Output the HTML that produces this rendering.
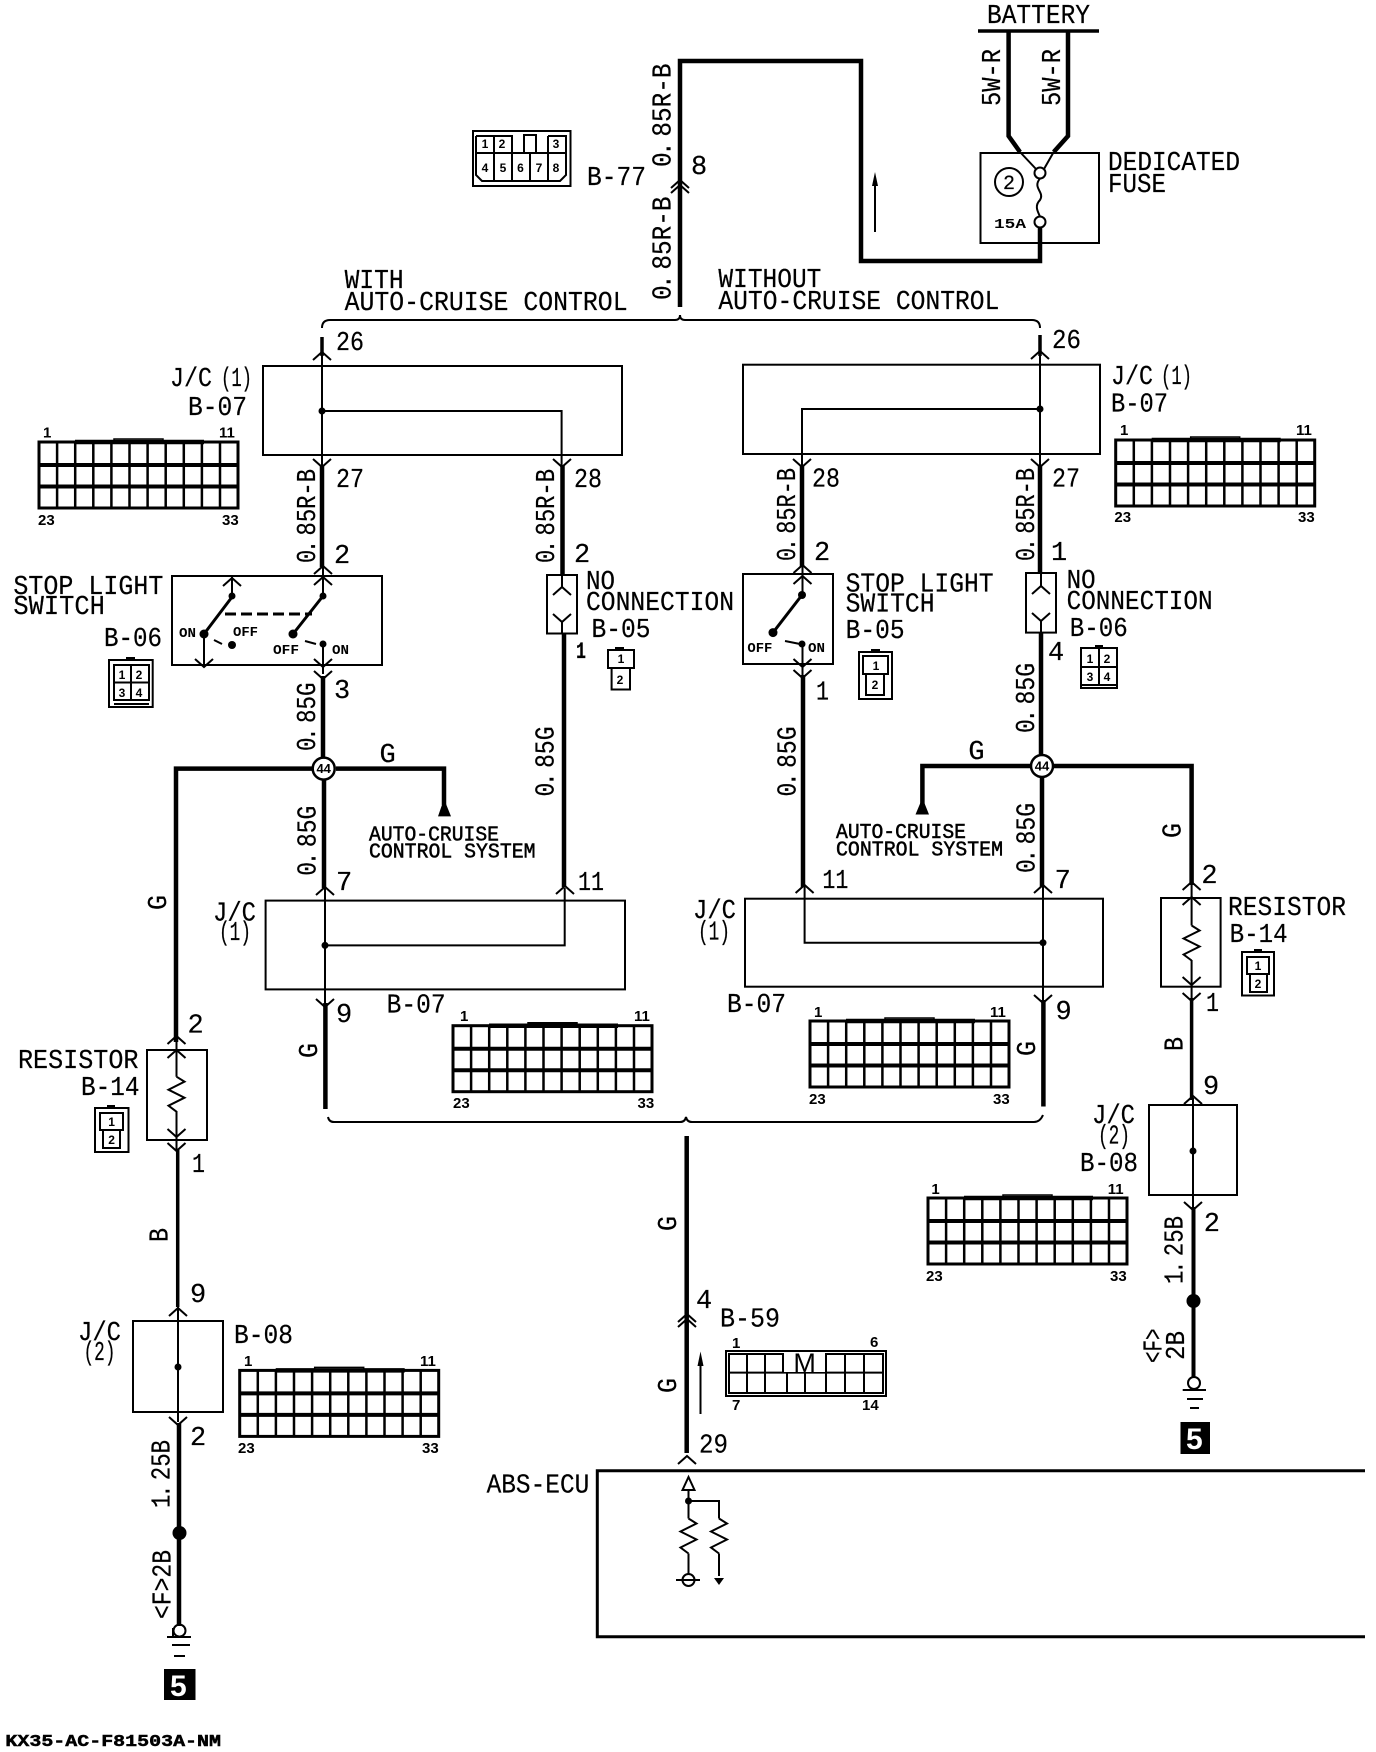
<!DOCTYPE html>
<html>
<head>
<meta charset="utf-8">
<style>
html,body{margin:0;padding:0;background:#fff}
svg{display:block}
text{fill:#000;font-family:"Liberation Mono",monospace;font-size:27px;stroke:#000;stroke-width:.2px}
.b{font-family:"Liberation Sans",sans-serif;font-weight:bold;font-size:15px;stroke:none}
.s{font-family:"Liberation Mono",monospace;font-weight:bold;font-size:14px;stroke:none}
.c{font-size:21px;stroke-width:.5px}
.p{font-family:"Liberation Sans",sans-serif;font-weight:bold;font-size:12px;text-anchor:middle;stroke:none}
.f{fill:none;stroke:#000}
.w{fill:none;stroke:#000;stroke-width:4.5}
.t{fill:none;stroke:#000;stroke-width:2}
</style>
</head>
<body>
<svg xmlns="http://www.w3.org/2000/svg" width="1376" height="1752" viewBox="0 0 1376 1752">
<defs>
<path id="u" class="t" d="M-9 5L0-3L9 5"/>
<path id="d" class="t" d="M-9-5L0 3L9-5"/>
<path id="z" class="t" d="M0 0L8 5L-8 13L8 21L-8 29L0 35"/>
<g id="g">
<rect class="f" stroke-width="3" x="0" y="0" width="199" height="66"/>
<path class="f" stroke-width="4" d="M0 23H199M0 44.500H199"/>
<path class="f" stroke-width="2.500" d="M18.100 0V66M36.200 0V66M54.300 0V66M72.400 0V66M90.500 0V66M108.600 0V66M126.700 0V66M144.800 0V66M162.900 0V66M181 0V66"/>
<path class="f" stroke-width="4.500" d="M36 0H165"/>
<path class="f" stroke-width="1.500" d="M75 0V-3H124V0"/>
</g>
</defs>

<!-- battery and fuse -->
<path class="f" stroke-width="3.500" d="M978 31H1099"/>
<text x="987" y="23" textLength="103" lengthAdjust="spacingAndGlyphs">BATTERY</text>
<path class="w" d="M1008.600 31V136L1020 152M1068 31V136L1053.700 152"/>
<path class="t" d="M1020 152L1036 169M1053.700 152L1044 169"/>
<rect class="t" x="980.500" y="153" width="118.500" height="90"/>
<circle class="t" cx="1040" cy="173" r="5.500" fill="#fff"/>
<circle class="t" cx="1040" cy="222" r="5.500" fill="#fff"/>
<path class="t" d="M1040 178.500C1032 188 1045 192 1040 200C1034 206 1038 212 1040 216.500"/>
<circle class="t" cx="1009" cy="182" r="14"/>
<text x="1003" y="189" style="font-size:20px">2</text>
<text class="s" x="994" y="228" textLength="32" lengthAdjust="spacingAndGlyphs">15A</text>
<text x="1108" y="170" textLength="132" lengthAdjust="spacingAndGlyphs">DEDICATED</text>
<text x="1108" y="192" textLength="58" lengthAdjust="spacingAndGlyphs">FUSE</text>
<text transform="translate(1000,106) rotate(-90)" textLength="57" lengthAdjust="spacingAndGlyphs">5W-R</text>
<text transform="translate(1060,106) rotate(-90)" textLength="57" lengthAdjust="spacingAndGlyphs">5W-R</text>
<path class="w" d="M680 307V61H861V261H1040V227"/>
<path class="t" stroke-width="1.500" d="M875 232V180"/>
<path d="M875 172L872 186H878Z"/>

<!-- B-77 -->
<rect class="t" x="473" y="131" width="97.500" height="55"/>
<path class="t" d="M476 153H566M476 136H512V153M494 136V180M512 153V180M530 153V180M548 136V180M548 136H566V175L560 181H482L476 175V136M524 153V135H536V153"/>
<text class="p" x="485" y="148">1</text><text class="p" x="502" y="148">2</text><text class="p" x="556" y="148">3</text><text class="p" x="485" y="172">4</text><text class="p" x="503" y="172">5</text><text class="p" x="520.500" y="172">6</text><text class="p" x="539" y="172">7</text><text class="p" x="556" y="172">8</text>
<text x="587" y="185" textLength="59" lengthAdjust="spacingAndGlyphs">B-77</text>
<text transform="translate(670.500,167) rotate(-90)" textLength="103.500" lengthAdjust="spacingAndGlyphs">0<tspan dx="-4">.</tspan><tspan dx="-11"> 85R-B</tspan></text>
<text transform="translate(670.500,300) rotate(-90)" textLength="103.500" lengthAdjust="spacingAndGlyphs">0<tspan dx="-4">.</tspan><tspan dx="-11"> 85R-B</tspan></text>
<text x="691" y="174">8</text>
<use href="#u" x="680" y="183"/><use href="#u" x="680" y="188"/>

<!-- top bracket -->
<path class="t" d="M322 328Q322 320 330 320H675Q680 320 680 315Q680 320 685 320H1032Q1040 320 1040 328"/>
<text x="344.600" y="288" textLength="59" lengthAdjust="spacingAndGlyphs">WITH</text>
<text x="344.600" y="310" textLength="283" lengthAdjust="spacingAndGlyphs">AUTO-CRUISE CONTROL</text>
<text x="718.400" y="287" textLength="103" lengthAdjust="spacingAndGlyphs">WITHOUT</text>
<text x="718.400" y="309" textLength="281" lengthAdjust="spacingAndGlyphs">AUTO-CRUISE CONTROL</text>

<!-- left top J/C -->
<path class="f" stroke-width="3.500" d="M322 337V356"/>
<path class="t" d="M322 356V465M322 411H561.600V465"/>
<use href="#u" x="322" y="355"/><use href="#d" x="322" y="464"/><use href="#d" x="562" y="464"/>
<circle cx="322" cy="411" r="3.500"/>
<rect class="t" x="263" y="366" width="359" height="89"/>
<path class="w" d="M322 465V567M562.500 465V576"/>
<text x="336" y="350" textLength="28" lengthAdjust="spacingAndGlyphs">26</text>
<text x="170" y="386" textLength="42" lengthAdjust="spacingAndGlyphs">J/C</text>
<text x="221" y="386" textLength="31" lengthAdjust="spacingAndGlyphs">(1)</text>
<text x="188" y="415" textLength="59" lengthAdjust="spacingAndGlyphs">B-07</text>
<use href="#g" x="39" y="442"/>
<text class="b" x="43" y="437.500">1</text><text class="b" x="219" y="437.500">11</text><text class="b" x="38" y="525">23</text><text class="b" x="222" y="525">33</text>
<text x="336" y="487" textLength="28" lengthAdjust="spacingAndGlyphs">27</text>
<text x="574" y="487" textLength="28" lengthAdjust="spacingAndGlyphs">28</text>
<text x="334" y="563">2</text>
<text x="574" y="562">2</text>
<text transform="translate(315,563) rotate(-90)" textLength="94" lengthAdjust="spacingAndGlyphs">0<tspan dx="-4">.</tspan><tspan dx="-11"> 85R-B</tspan></text>
<text transform="translate(554,563) rotate(-90)" textLength="94" lengthAdjust="spacingAndGlyphs">0<tspan dx="-4">.</tspan><tspan dx="-11"> 85R-B</tspan></text>

<!-- left stop light switch -->
<text x="13.400" y="594" textLength="150" lengthAdjust="spacingAndGlyphs">STOP LIGHT</text>
<text x="13.400" y="614" textLength="91.500" lengthAdjust="spacingAndGlyphs">SWITCH</text>
<text x="104" y="646" textLength="58" lengthAdjust="spacingAndGlyphs">B-06</text>
<rect class="t" x="172" y="576" width="210" height="89"/>
<path class="t" d="M232 576V597M323 567V597M204 634V665M323 644V674"/>
<use href="#u" x="232" y="581"/><use href="#u" x="323" y="569"/><use href="#u" x="323" y="580"/>
<use href="#d" x="204" y="664"/><use href="#d" x="323" y="664"/><use href="#d" x="323" y="676"/>
<path class="f" stroke-width="3" d="M232 597L204 634M323 596L293 634"/>
<path class="f" stroke-width="3" stroke-dasharray="11 5" d="M225 614H312"/>
<path class="t" d="M214 640L222 644M305 641L316 644"/>
<circle cx="232" cy="596" r="3.500"/><circle cx="323" cy="596" r="3.500"/><circle cx="204" cy="634" r="4.500"/><circle cx="293" cy="634" r="4.500"/><circle cx="232" cy="645" r="4"/><circle cx="323" cy="644" r="3.500"/>
<text class="s" x="179" y="637" textLength="17" lengthAdjust="spacingAndGlyphs">ON</text>
<text class="s" x="233" y="636" textLength="25" lengthAdjust="spacingAndGlyphs">OFF</text>
<text class="s" x="273" y="654" textLength="26" lengthAdjust="spacingAndGlyphs">OFF</text>
<text class="s" x="332" y="654" textLength="17" lengthAdjust="spacingAndGlyphs">ON</text>
<rect class="t" x="109" y="660" width="43.700" height="47"/>
<path class="t" d="M114 665H149V700H114ZM114 682.500H149M131 665V700M114 704H149"/>
<rect x="126" y="657" width="9" height="3"/>
<text class="p" x="122" y="679">1</text><text class="p" x="139" y="679">2</text><text class="p" x="122" y="697">3</text><text class="p" x="139" y="697">4</text>

<!-- left no-connection -->
<rect class="t" x="547" y="575" width="30" height="58.500"/>
<path class="t" d="M562 575V587M562 621V633"/>
<use href="#u" x="562" y="590"/><use href="#d" x="562" y="619"/>
<text x="586" y="589" textLength="29" lengthAdjust="spacingAndGlyphs">NO</text>
<text x="586" y="610" textLength="148" lengthAdjust="spacingAndGlyphs">CONNECTION</text>
<text x="591.500" y="637" textLength="59" lengthAdjust="spacingAndGlyphs">B-05</text>
<text x="576" y="658" textLength="10" lengthAdjust="spacingAndGlyphs" style="font-weight:bold;font-size:23px">1</text>
<rect class="t" x="608" y="650" width="26" height="18"/>
<rect class="t" x="611.600" y="668" width="18.400" height="21.500"/>
<rect x="615" y="647" width="9" height="3"/>
<text class="p" x="621" y="663">1</text><text class="p" x="620" y="684">2</text>
<path class="w" d="M564 633V887"/>
<text transform="translate(553.600,796.500) rotate(-90)" textLength="70" lengthAdjust="spacingAndGlyphs">0<tspan dx="-4">.</tspan><tspan dx="-11"> 85G</tspan></text>

<!-- left junction 44 -->
<text x="334" y="698">3</text>
<text transform="translate(315,751) rotate(-90)" textLength="68.500" lengthAdjust="spacingAndGlyphs">0<tspan dx="-4">.</tspan><tspan dx="-11"> 85G</tspan></text>
<path class="w" d="M323 676V757M324 780V888"/>
<path class="f" stroke-width="4.500" d="M176 1042V768.600H312M336 768.600H444V805"/>
<path d="M444 799L438 816.400H451Z"/>
<circle cx="323.700" cy="768.600" r="11" fill="#fff" stroke="#000" stroke-width="2.500"/>
<text class="p" x="323.700" y="773" style="font-size:13px">44</text>
<text x="379.500" y="762">G</text>
<text class="c" x="369" y="840.500" textLength="130" lengthAdjust="spacingAndGlyphs">AUTO-CRUISE</text>
<text class="c" x="369" y="857.700" textLength="166.500" lengthAdjust="spacingAndGlyphs">CONTROL SYSTEM</text>
<text transform="translate(315.600,875.700) rotate(-90)" textLength="70" lengthAdjust="spacingAndGlyphs">0<tspan dx="-4">.</tspan><tspan dx="-11"> 85G</tspan></text>
<text x="336" y="890">7</text>
<text x="578" y="890" textLength="26" lengthAdjust="spacingAndGlyphs">11</text>

<!-- left mid J/C -->
<rect class="t" x="265.600" y="900.600" width="359.400" height="88.800"/>
<path class="t" d="M325 888V1003M325 945.400H564.700V888"/>
<use href="#u" x="325" y="890"/><use href="#u" x="565" y="889"/><use href="#d" x="325" y="1004"/>
<circle cx="325" cy="945.400" r="3.500"/>
<path class="w" d="M325.400 1003V1109"/>
<text x="213" y="920.500" textLength="43" lengthAdjust="spacingAndGlyphs">J/C</text>
<text x="219" y="940" textLength="32" lengthAdjust="spacingAndGlyphs">(1)</text>
<text x="386.600" y="1012.700" textLength="59" lengthAdjust="spacingAndGlyphs">B-07</text>
<text x="336" y="1022">9</text>
<text transform="translate(317,1058) rotate(-90)" textLength="15" lengthAdjust="spacingAndGlyphs">G</text>
<text transform="translate(166,910) rotate(-90)" textLength="15" lengthAdjust="spacingAndGlyphs">G</text>
<use href="#g" x="453" y="1025.700"/>
<text class="b" x="460" y="1021">1</text><text class="b" x="634" y="1021">11</text><text class="b" x="453" y="1108">23</text><text class="b" x="637.500" y="1108">33</text>

<!-- left resistor -->
<rect class="t" x="147" y="1050" width="60" height="90"/>
<path class="t" d="M176.500 1040V1076.700M176.500 1111V1150"/>
<use href="#z" x="176.500" y="1076.700"/>
<use href="#u" x="176.500" y="1039"/><use href="#u" x="176.500" y="1053"/><use href="#d" x="176.500" y="1134"/><use href="#d" x="176.500" y="1148"/>
<text x="187.500" y="1032.600">2</text>
<text x="18" y="1068" textLength="120.500" lengthAdjust="spacingAndGlyphs">RESISTOR</text>
<text x="81" y="1095" textLength="58.500" lengthAdjust="spacingAndGlyphs">B-14</text>
<rect class="t" x="95" y="1108" width="33.500" height="44"/>
<rect class="t" x="100" y="1113" width="23" height="17"/>
<rect class="t" x="103" y="1130" width="17" height="18"/>
<rect x="107" y="1105" width="8" height="3"/>
<text class="p" x="111.600" y="1126">1</text><text class="p" x="111.600" y="1144">2</text>

<!-- left lower -->
<path class="f" stroke-width="3.500" d="M177.700 1150V1307"/>
<text x="192" y="1172" textLength="13" lengthAdjust="spacingAndGlyphs">1</text>
<text transform="translate(167.400,1242) rotate(-90)" textLength="14" lengthAdjust="spacingAndGlyphs">B</text>
<text x="190" y="1302">9</text>
<rect class="t" x="133" y="1321" width="90" height="91"/>
<path class="t" d="M178 1305V1422"/>
<use href="#u" x="178" y="1311"/><use href="#d" x="178" y="1422"/>
<circle cx="178" cy="1367" r="3.500"/>
<text x="78" y="1340" textLength="43" lengthAdjust="spacingAndGlyphs">J/C</text>
<text x="83.500" y="1360" textLength="32" lengthAdjust="spacingAndGlyphs">(2)</text>
<text x="234" y="1343" textLength="59" lengthAdjust="spacingAndGlyphs">B-08</text>
<use href="#g" x="239.700" y="1370.400"/>
<text class="b" x="244" y="1366">1</text><text class="b" x="420" y="1366">11</text><text class="b" x="238" y="1453">23</text><text class="b" x="422" y="1453">33</text>
<text x="190" y="1445">2</text>
<path class="w" d="M179 1423V1626"/>
<circle cx="179.500" cy="1533" r="7"/>
<text transform="translate(169.600,1508) rotate(-90)" textLength="68" lengthAdjust="spacingAndGlyphs">1<tspan dx="-4">.</tspan><tspan dx="-11"> 25B</tspan></text>
<text transform="translate(170.500,1619) rotate(-90)" textLength="69" lengthAdjust="spacingAndGlyphs">&lt;F&gt;2B</text>
<circle class="t" cx="179.500" cy="1630.600" r="6"/>
<path class="t" d="M167 1637H191M172 1645H190M174 1656H185M173 1628V1637"/>
<rect x="164" y="1669" width="31.500" height="31"/>
<text x="170" y="1696" style="fill:#fff;stroke:none;font-family:'Liberation Sans',sans-serif;font-weight:bold;font-size:30px">5</text>
<text x="5.400" y="1746" textLength="215.600" lengthAdjust="spacingAndGlyphs" style="font-weight:bold;font-size:17px;stroke-width:.5px">KX35-AC-F81503A-NM</text>

<!-- bottom bracket and center wire -->
<path class="t" d="M328 1117Q329 1122 334 1122H680Q685 1122 686 1117Q687 1122 692 1122H1034Q1040 1122 1043 1115"/>
<path class="w" d="M686.700 1136V1453"/>
<use href="#u" x="687" y="1317"/><use href="#u" x="687" y="1322"/><use href="#u" x="687" y="1459"/>
<text transform="translate(676,1231) rotate(-90)" textLength="15" lengthAdjust="spacingAndGlyphs">G</text>
<text transform="translate(676,1393) rotate(-90)" textLength="15" lengthAdjust="spacingAndGlyphs">G</text>
<text x="696" y="1308">4</text>
<text x="720" y="1326.600" textLength="60" lengthAdjust="spacingAndGlyphs">B-59</text>
<path class="t" stroke-width="1.500" d="M700.500 1360V1414"/>
<path d="M700.500 1351.500L697.500 1366H703.500Z"/>
<rect class="t" stroke-width="2.500" x="726" y="1351" width="160" height="45"/>
<path class="t" d="M729 1354H883V1393H729ZM729 1372.600H883M747 1354V1393M765 1354V1393M783 1354V1372M826 1354V1393M845 1354V1393M864 1354V1393M805 1372V1393M787 1372V1393"/>
<rect x="784" y="1353" width="41" height="19" fill="#fff"/>
<text x="804.600" y="1372" text-anchor="middle" style="font-family:'Liberation Sans',sans-serif;font-size:27px;stroke:none">M</text>
<text class="b" x="732" y="1348">1</text><text class="b" x="870" y="1347">6</text><text class="b" x="732" y="1410">7</text><text class="b" x="862" y="1410">14</text>
<text x="699" y="1452.500" textLength="29" lengthAdjust="spacingAndGlyphs">29</text>

<!-- ABS-ECU -->
<text x="486.600" y="1492.400" textLength="102.700" lengthAdjust="spacingAndGlyphs">ABS-ECU</text>
<path class="f" stroke-width="3" d="M1365 1470.700H597.300V1636.800H1365"/>
<path class="t" d="M688.500 1477L682.500 1490H694.500ZM688.500 1490V1518.500M688.500 1501H719V1518.500M688.500 1553.500V1574M719 1553.500V1576"/>
<circle cx="688.500" cy="1501" r="3.500"/>
<use href="#z" x="688.500" y="1518.500"/><use href="#z" x="719" y="1518.500"/>
<circle class="t" cx="688.500" cy="1580" r="6"/>
<path class="t" d="M676 1580H700"/>
<path d="M714 1578H724L719 1585Z"/>

<!-- right top J/C -->
<path class="f" stroke-width="3.500" d="M1040 335V356"/>
<path class="t" d="M1040 356V465M1040 409H802V465"/>
<use href="#u" x="1040" y="354"/><use href="#d" x="1040" y="464"/><use href="#d" x="802" y="464"/>
<circle cx="1040" cy="409" r="3.500"/>
<rect class="t" x="743" y="364.700" width="357" height="89.300"/>
<path class="w" d="M802 465V567M1040 465V573"/>
<text x="1052" y="348" textLength="29" lengthAdjust="spacingAndGlyphs">26</text>
<text x="812" y="486.600" textLength="28" lengthAdjust="spacingAndGlyphs">28</text>
<text x="1052" y="486.600" textLength="28" lengthAdjust="spacingAndGlyphs">27</text>
<text x="1111" y="384" textLength="42" lengthAdjust="spacingAndGlyphs">J/C</text>
<text x="1161" y="384" textLength="31" lengthAdjust="spacingAndGlyphs">(1)</text>
<text x="1111" y="411.600" textLength="57" lengthAdjust="spacingAndGlyphs">B-07</text>
<use href="#g" x="1115.700" y="440"/>
<text class="b" x="1120" y="435">1</text><text class="b" x="1296" y="435">11</text><text class="b" x="1114.400" y="522">23</text><text class="b" x="1298" y="522">33</text>
<text transform="translate(795,561) rotate(-90)" textLength="93" lengthAdjust="spacingAndGlyphs">0<tspan dx="-4">.</tspan><tspan dx="-11"> 85R-B</tspan></text>
<text transform="translate(1034,561) rotate(-90)" textLength="93" lengthAdjust="spacingAndGlyphs">0<tspan dx="-4">.</tspan><tspan dx="-11"> 85R-B</tspan></text>
<text x="814" y="560">2</text><text x="1051" y="560">1</text>

<!-- right stop light switch -->
<rect class="t" x="743" y="574" width="90" height="90"/>
<path class="t" d="M802.500 565V595M802.500 644V676"/>
<use href="#u" x="802.500" y="568"/><use href="#u" x="802.500" y="579"/><use href="#d" x="802.500" y="664"/><use href="#d" x="802.500" y="675"/>
<path class="f" stroke-width="3" d="M802 595L773 632.600"/>
<path class="t" d="M785 641L800 644"/>
<circle cx="802" cy="595" r="4"/><circle cx="773" cy="632.600" r="4.500"/><circle cx="802" cy="644" r="3.500"/>
<text class="s" x="747.400" y="652" textLength="25" lengthAdjust="spacingAndGlyphs">OFF</text>
<text class="s" x="808" y="652" textLength="17" lengthAdjust="spacingAndGlyphs">ON</text>
<text x="845.600" y="591.500" textLength="148" lengthAdjust="spacingAndGlyphs">STOP LIGHT</text>
<text x="845.600" y="611.600" textLength="89" lengthAdjust="spacingAndGlyphs">SWITCH</text>
<text x="845.600" y="638" textLength="59" lengthAdjust="spacingAndGlyphs">B-05</text>
<rect class="t" x="859" y="652" width="33" height="47"/>
<rect class="t" x="863" y="656" width="25" height="18"/>
<rect class="t" x="866" y="674" width="18" height="21"/>
<rect x="871" y="649" width="9" height="3"/>
<text class="p" x="876" y="670">1</text><text class="p" x="875" y="689">2</text>
<text x="816" y="699.700" textLength="13" lengthAdjust="spacingAndGlyphs">1</text>
<path class="w" d="M803 675V887"/>
<text transform="translate(795.600,796.500) rotate(-90)" textLength="70" lengthAdjust="spacingAndGlyphs">0<tspan dx="-4">.</tspan><tspan dx="-11"> 85G</tspan></text>

<!-- right no-connection -->
<rect class="t" x="1026" y="573" width="30" height="59.600"/>
<path class="t" d="M1041 573V586M1041 620V632"/>
<use href="#u" x="1041" y="589"/><use href="#d" x="1041" y="618"/>
<text x="1066.600" y="588" textLength="29" lengthAdjust="spacingAndGlyphs">NO</text>
<text x="1066.600" y="609" textLength="146" lengthAdjust="spacingAndGlyphs">CONNECTION</text>
<text x="1069.700" y="636" textLength="58" lengthAdjust="spacingAndGlyphs">B-06</text>
<text x="1048" y="660">4</text>
<rect class="t" x="1081" y="648" width="36" height="40"/>
<path class="t" d="M1081 667H1117M1099 648V685M1081 685H1117"/>
<rect x="1095" y="645" width="8" height="3"/>
<text class="p" x="1090" y="663">1</text><text class="p" x="1107" y="663">2</text><text class="p" x="1090" y="681">3</text><text class="p" x="1107" y="681">4</text>

<!-- right junction 44 -->
<path class="w" d="M1041 632.600V755M1042 778V887"/>
<path class="f" stroke-width="4.500" d="M922.400 805V766H1030M1054 766H1191.600V885"/>
<path d="M922.400 798L915.500 814.500H929Z"/>
<circle cx="1042" cy="766" r="11" fill="#fff" stroke="#000" stroke-width="2.500"/>
<text class="p" x="1042" y="770.500" style="font-size:13px">44</text>
<text x="968.400" y="759">G</text>
<text class="c" x="836" y="838" textLength="130" lengthAdjust="spacingAndGlyphs">AUTO-CRUISE</text>
<text class="c" x="836" y="855.400" textLength="167" lengthAdjust="spacingAndGlyphs">CONTROL SYSTEM</text>
<text transform="translate(1034,733) rotate(-90)" textLength="70" lengthAdjust="spacingAndGlyphs">0<tspan dx="-4">.</tspan><tspan dx="-11"> 85G</tspan></text>
<text transform="translate(1034.500,873) rotate(-90)" textLength="70" lengthAdjust="spacingAndGlyphs">0<tspan dx="-4">.</tspan><tspan dx="-11"> 85G</tspan></text>
<text x="822.400" y="888" textLength="26" lengthAdjust="spacingAndGlyphs">11</text>
<text x="1054.600" y="888">7</text>

<!-- right mid J/C -->
<rect class="t" x="745" y="898.700" width="358" height="88"/>
<path class="t" d="M804.600 887V942.700H1043M1043 887V1000"/>
<use href="#u" x="804.600" y="888"/><use href="#u" x="1043" y="888"/><use href="#d" x="1043" y="1000"/>
<circle cx="1043" cy="942.700" r="3.500"/>
<path class="w" d="M1043.400 1000V1106.500"/>
<text x="693" y="918" textLength="43" lengthAdjust="spacingAndGlyphs">J/C</text>
<text x="698" y="939.600" textLength="32" lengthAdjust="spacingAndGlyphs">(1)</text>
<text x="727" y="1012" textLength="59" lengthAdjust="spacingAndGlyphs">B-07</text>
<text x="1055.500" y="1019">9</text>
<text transform="translate(1035,1056) rotate(-90)" textLength="15" lengthAdjust="spacingAndGlyphs">G</text>
<use href="#g" x="810" y="1021"/>
<text class="b" x="814" y="1017">1</text><text class="b" x="990" y="1017">11</text><text class="b" x="809" y="1104">23</text><text class="b" x="993" y="1104">33</text>

<!-- right resistor -->
<rect class="t" x="1161" y="898" width="59.600" height="88.700"/>
<path class="t" d="M1191.600 885V925.500M1191.600 960V1000"/>
<use href="#z" x="1191.600" y="925.500"/>
<use href="#u" x="1191.600" y="885"/><use href="#u" x="1191.600" y="900"/><use href="#d" x="1191.600" y="982"/><use href="#d" x="1191.600" y="998"/>
<text x="1201.400" y="883">2</text>
<text transform="translate(1180.500,838) rotate(-90)" textLength="15" lengthAdjust="spacingAndGlyphs">G</text>
<text x="1228" y="915" textLength="118" lengthAdjust="spacingAndGlyphs">RESISTOR</text>
<text x="1229.600" y="942" textLength="58" lengthAdjust="spacingAndGlyphs">B-14</text>
<rect class="t" x="1242" y="952" width="32" height="43.500"/>
<rect class="t" x="1247" y="957" width="22" height="17"/>
<rect class="t" x="1250" y="974" width="17" height="18"/>
<rect x="1254" y="949" width="8" height="3"/>
<text class="p" x="1258" y="970">1</text><text class="p" x="1258" y="988">2</text>
<text x="1206" y="1011" textLength="13" lengthAdjust="spacingAndGlyphs">1</text>
<path class="f" stroke-width="3.500" d="M1191.600 998V1100"/>
<text transform="translate(1182.700,1051) rotate(-90)" textLength="14" lengthAdjust="spacingAndGlyphs">B</text>
<text x="1203" y="1094">9</text>

<!-- right lower -->
<rect class="t" x="1149" y="1105" width="88" height="90"/>
<path class="t" d="M1193 1098V1207"/>
<use href="#u" x="1193" y="1099"/><use href="#d" x="1193" y="1207"/>
<circle cx="1193" cy="1151" r="3.500"/>
<text x="1092" y="1123" textLength="43" lengthAdjust="spacingAndGlyphs">J/C</text>
<text x="1098" y="1143.600" textLength="32" lengthAdjust="spacingAndGlyphs">(2)</text>
<text x="1080" y="1171" textLength="58" lengthAdjust="spacingAndGlyphs">B-08</text>
<use href="#g" x="928" y="1198"/>
<text class="b" x="931.400" y="1194">1</text><text class="b" x="1107.700" y="1194">11</text><text class="b" x="926" y="1281">23</text><text class="b" x="1110" y="1281">33</text>
<path class="f" stroke-width="4" d="M1193.500 1207V1378"/>
<circle cx="1193.500" cy="1301" r="7"/>
<circle class="t" cx="1194" cy="1383" r="6"/>
<path class="t" d="M1182.700 1390H1206M1187 1399H1203M1190 1408H1199"/>
<text x="1203.700" y="1231">2</text>
<text transform="translate(1182.700,1284) rotate(-90)" textLength="68" lengthAdjust="spacingAndGlyphs">1<tspan dx="-4">.</tspan><tspan dx="-11"> 25B</tspan></text>
<text transform="translate(1161.700,1363) rotate(-90)" textLength="34.500" lengthAdjust="spacingAndGlyphs">&lt;F&gt;</text>
<text transform="translate(1184,1360) rotate(-90)" textLength="29" lengthAdjust="spacingAndGlyphs">2B</text>
<rect x="1180.500" y="1422" width="29.500" height="32"/>
<text x="1186" y="1449" style="fill:#fff;stroke:none;font-family:'Liberation Sans',sans-serif;font-weight:bold;font-size:30px">5</text>
</svg>
</body>
</html>
